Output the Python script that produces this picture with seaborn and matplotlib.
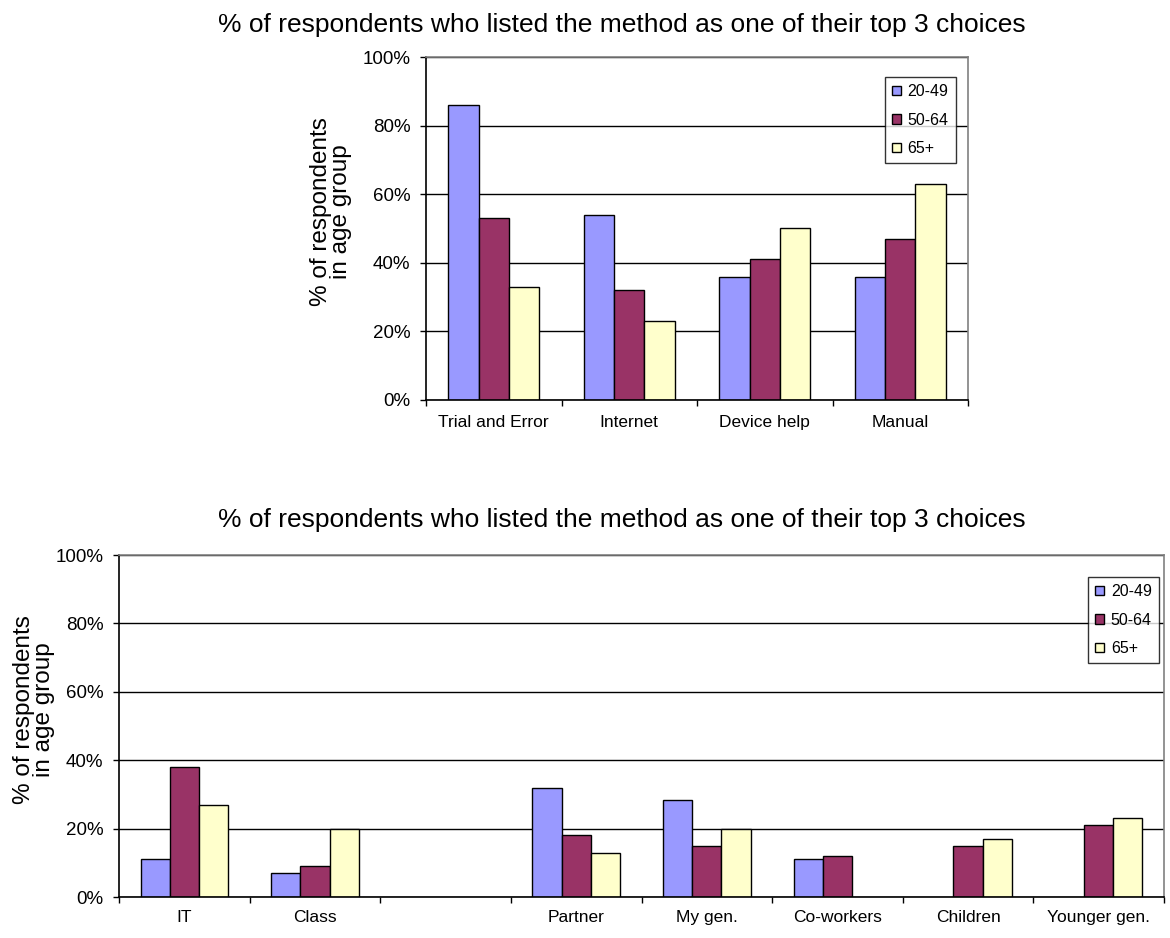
import matplotlib.pyplot as plt
import numpy as np
import pandas as pd
import seaborn as sns
from matplotlib.ticker import PercentFormatter, FixedLocator

TITLE = "% of respondents who listed the method as one of their top 3 choices"
YLABEL = "% of respondents\nin age group"
AGE_GROUPS = ["20-49", "50-64", "65+"]
COLORS = ["#9999FF", "#993366", "#FFFFCC"]

TOP_METHODS = ["Trial and Error", "Internet", "Device help", "Manual"]
TOP_20_49 = [86, 54, 36, 36]
TOP_50_64 = [53, 32, 41, 47]
TOP_65 = [33, 23, 50, 63]

BOTTOM_METHODS = ["IT", "Class", " ", "Partner", "My gen.", "Co-workers", "Children", "Younger gen."]
BOTTOM_20_49 = [11, 7, np.nan, 32, 28.5, 11, np.nan, np.nan]
BOTTOM_50_64 = [38, 9, np.nan, 18, 15, 12, 15, 21]
BOTTOM_65 = [27, 20, np.nan, 13, 20, np.nan, 17, 23]

plt.rcParams["font.family"] = ["Liberation Sans", "DejaVu Sans"]


def to_long(methods, series):
    rows = []
    for age, vals in zip(AGE_GROUPS, series):
        for m, v in zip(methods, vals):
            rows.append({"method": m, "age": age, "value": v})
    return pd.DataFrame(rows)


def draw(ax, methods, series, legend_pos, label_x, xpad):
    df = to_long(methods, series)
    sns.barplot(
        data=df, x="method", y="value", hue="age", order=methods, hue_order=AGE_GROUPS,
        palette=COLORS, width=0.67, gap=0, errorbar=None, edgecolor="black",
        linewidth=1.0, saturation=1, ax=ax,
    )
    n = len(methods)
    ax.set_xlim(-0.5, n - 0.5)
    ax.set_ylim(0, 100)
    ax.set_yticks([0, 20, 40, 60, 80, 100])
    ax.yaxis.set_major_formatter(PercentFormatter(decimals=0))
    ax.yaxis.grid(True, color="black", linewidth=1.0)
    ax.set_axisbelow(True)
    ax.xaxis.set_minor_locator(FixedLocator(np.arange(-0.5, n, 1.0)))
    ax.tick_params(axis="x", which="major", length=0, labelsize=12.5, pad=xpad)
    ax.tick_params(axis="x", which="minor", length=4.5, direction="out", width=1)
    ax.tick_params(axis="y", length=4.3, direction="out", labelsize=13.5, width=1, pad=7)
    for s in ["left", "bottom"]:
        ax.spines[s].set_color("black")
        ax.spines[s].set_linewidth(1.2)
    for s in ["top", "right"]:
        ax.spines[s].set_color("#808080")
        ax.spines[s].set_linewidth(1.2)
    ax.set_xlabel("")
    ax.set_ylabel(YLABEL, fontsize=17.5, linespacing=0.9)
    ax.yaxis.set_label_coords(label_x, 0.548)
    leg = ax.legend(
        loc="upper left", bbox_to_anchor=legend_pos, frameon=True, fancybox=False,
        edgecolor="black", fontsize=11.5, handlelength=0.55, handleheight=0.55,
        handletextpad=0.45, borderpad=0.45, labelspacing=0.85, borderaxespad=0,
    )
    leg.get_frame().set_linewidth(1.0)


fig = plt.figure(figsize=(11.7, 9.38), dpi=100)
ax_top = fig.add_axes([426 / 1170, 1 - 400 / 938, 542 / 1170, 343 / 938])
ax_bottom = fig.add_axes([119 / 1170, 1 - 897 / 938, 1045 / 1170, 342 / 938])

draw(ax_top, TOP_METHODS, [TOP_20_49, TOP_50_64, TOP_65], (0.846, 0.942), -0.1365, 11)
draw(ax_bottom, BOTTOM_METHODS, [BOTTOM_20_49, BOTTOM_50_64, BOTTOM_65], (0.927, 0.936), -0.061, 9)

fig.text(218 / 1170, 1 - 32 / 938, TITLE, fontsize=19, ha="left", va="baseline")
fig.text(218 / 1170, 1 - 527 / 938, TITLE, fontsize=19, ha="left", va="baseline")

fig.savefig("out.png", dpi=100)
